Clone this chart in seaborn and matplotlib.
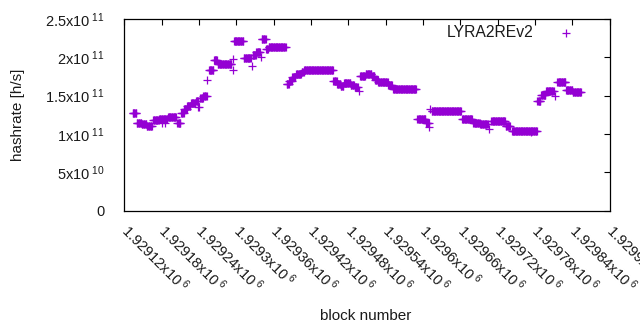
# hashrate per block, gnuplot-like look

import numpy as np
import pandas as pd
import matplotlib
matplotlib.use('Agg')
import matplotlib.pyplot as plt
import seaborn as sns

# runs of (almost) constant hashrate
# block numbers are offsets from 1929120, hashrate in units of 1e11 h/s
run_first = [13, 20, 28, 36, 46, 56, 70, 85, 91, 96, 101, 107, 115, 122, 127,
             136, 144, 150, 176, 192, 206, 212, 221, 228, 232, 261, 265, 270,
             276, 285, 289, 336, 342, 348, 353, 364, 370, 379, 388, 398, 403,
             408, 424, 432, 471, 485, 494, 543, 561, 572, 590, 613, 623, 664,
             670, 678, 696, 710, 721]
run_last = [19, 27, 35, 44, 55, 69, 83, 90, 95, 100, 106, 114, 118, 126, 132,
            143, 149, 172, 191, 203, 211, 218, 227, 231, 259, 264, 269, 275,
            284, 288, 335, 341, 347, 352, 363, 369, 375, 387, 397, 402, 407,
            423, 430, 469, 484, 489, 541, 559, 571, 584, 612, 620, 663, 669,
            677, 690, 709, 720, 734]
run_rate = [1.28, 1.14, 1.13, 1.11, 1.18, 1.20, 1.225, 1.15, 1.27, 1.32, 1.365,
            1.41, 1.435, 1.47, 1.50, 1.84, 1.965, 1.91, 2.21, 1.99, 2.03, 2.065,
            2.235, 2.11, 2.13, 1.655, 1.69, 1.74, 1.78, 1.81, 1.835, 1.69, 1.65,
            1.63, 1.67, 1.64, 1.615, 1.76, 1.785, 1.75, 1.70, 1.675, 1.645,
            1.585, 1.19, 1.147, 1.30, 1.19, 1.15, 1.126, 1.173, 1.10, 1.045,
            1.435, 1.51, 1.565, 1.674, 1.574, 1.544]

# single outlying points
stray_block = [60, 66, 119, 120, 133, 174, 175, 205, 219, 377, 490, 492, 586,
               653, 692]
stray_rate = [1.14, 1.14, 1.35, 1.35, 1.70, 1.98, 1.83, 1.89, 2.00, 1.565,
              1.095, 1.33, 1.07, 1.03, 1.50]

block_base = 1929120
x_ticks = [1929120, 1929180, 1929240, 1929300, 1929360, 1929420, 1929480,
           1929540, 1929600, 1929660, 1929720, 1929780, 1929840, 1929900]
x_tick_text = ['1.92912', '1.92918', '1.92924', '1.9293', '1.92936', '1.92942',
               '1.92948', '1.92954', '1.9296', '1.92966', '1.92972', '1.92978',
               '1.92984', '1.9299']
y_ticks = [0, 5e10, 1e11, 1.5e11, 2e11, 2.5e11]
y_tick_text = ['0', r'$\mathregular{5x10^{\ 10}}$', r'$\mathregular{1x10^{\ 11}}$',
               r'$\mathregular{1.5x10^{\ 11}}$', r'$\mathregular{2x10^{\ 11}}$',
               r'$\mathregular{2.5x10^{\ 11}}$']

# expand runs into one point per block
blocks, rates = [], []
for a, b, r in zip(run_first, run_last, run_rate):
    for k in range(a, b + 1):
        blocks.append(block_base + k)
        rates.append(r * 1e11)
for k, r in zip(stray_block, stray_rate):
    blocks.append(block_base + k)
    rates.append(r * 1e11)
df = pd.DataFrame({'block': blocks, 'hashrate': rates})

sns.set_theme(style='white')
plt.rcParams['font.family'] = ['Liberation Sans', 'DejaVu Sans']
plt.rcParams['mathtext.fontset'] = 'custom'
plt.rcParams['mathtext.rm'] = 'Liberation Sans'
plt.rcParams['mathtext.it'] = 'Liberation Sans:italic'
plt.rcParams['mathtext.bf'] = 'Liberation Sans:bold'

fig = plt.figure(figsize=(6.4, 3.3), dpi=100)
ax = fig.add_axes([0.1944, 0.3615, 0.758, 0.581])

sns.scatterplot(data=df, x='block', y='hashrate', marker='+', color='#9400d3',
                s=26, linewidth=0.9, label='LYRA2REv2', ax=ax)

ax.set_xlim(1929120, 1929900)
ax.set_ylim(0, 2.5e11)

ax.set_xticks(x_ticks)
ax.set_xticklabels([r'$\mathregular{' + t + r'x10^{\ 6}}$' for t in x_tick_text],
                   rotation=-45, ha='left', va='center', rotation_mode='anchor')
ax.set_yticks(y_ticks)
ax.set_yticklabels(y_tick_text)

ax.tick_params(direction='in', length=4, width=0.8, color='black',
               top=True, right=True, labelsize=10.5, labelcolor='#1a1a1a')
ax.tick_params(axis='x', pad=12)
ax.tick_params(axis='y', pad=14)
for sp in ax.spines.values():
    sp.set_color('black')
    sp.set_linewidth(0.9)

ax.set_xlabel('block number', fontsize=11, color='#1a1a1a')
ax.set_ylabel('hashrate [h/s]', fontsize=11, color='#1a1a1a')
ax.xaxis.set_label_coords(0.497, -0.515)
ax.yaxis.set_label_coords(-0.205, 0.5)

leg = ax.legend(loc='upper right', bbox_to_anchor=(0.943, 0.97), frameon=False,
                markerfirst=False, handlelength=2, handletextpad=1.1,
                borderpad=0, borderaxespad=0, fontsize=11.3)
for t in leg.get_texts():
    t.set_color('#1a1a1a')

fig.savefig('out.png', dpi=100, facecolor='white')
